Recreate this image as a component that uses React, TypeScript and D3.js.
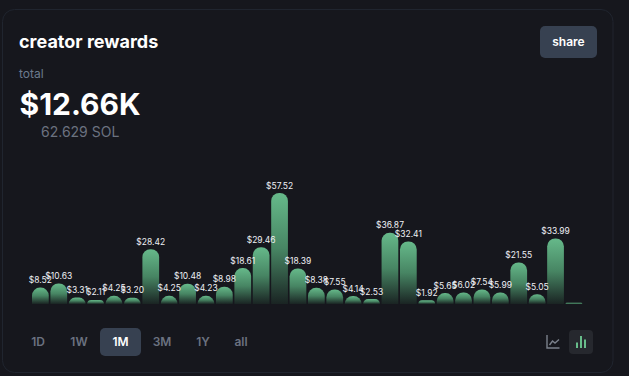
import React from "react";
import * as d3 from "d3";

const values = [8.52, 10.63, 3.31, 2.11, 4.25, 3.2, 28.42, 4.25, 10.48, 4.23, 8.98, 18.61, 29.46, 57.52, 18.39, 8.38, 7.55, 4.14, 2.53, 36.87, 32.41, 1.92, 5.65, 6.02, 7.54, 5.99, 21.55, 5.05, 33.99, 0.6];
const labels = ["$8.52", "$10.63", "$3.31", "$2.11", "$4.25", "$3.20", "$28.42", "$4.25", "$10.48", "$4.23", "$8.98", "$18.61", "$29.46", "$57.52", "$18.39", "$8.38", "$7.55", "$4.14", "$2.53", "$36.87", "$32.41", "$1.92", "$5.65", "$6.02", "$7.54", "$5.99", "$21.55", "$5.05", "$33.99", ""];
const ranges = ["1D", "1W", "1M", "3M", "1Y", "all"];
const rangeCenters = [38, 79, 120.5, 162, 203, 241];
const activeRange = "1M";
const iconBars = [5.5, 12, 8.5];

const FONT = "Inter, sans-serif";
const BG = "#16171d";

function barPath(x: number, y: number, w: number, h: number, r: number) {
  const c = Math.min(r, h, w / 2);
  const p = d3.path();
  p.moveTo(x, y + h);
  p.lineTo(x, y + c);
  p.arcTo(x, y, x + c, y, c);
  p.lineTo(x + w - c, y);
  p.arcTo(x + w, y, x + w, y + c, c);
  p.lineTo(x + w, y + h);
  p.closePath();
  return p.toString();
}

export default function App() {
  const x = d3.scaleBand<number>().domain(d3.range(values.length)).range([32, 582.3]).paddingInner(0.09).paddingOuter(0);
  const y = d3.scaleLinear().domain([0, 57.52]).range([304, 193]);
  return (
    <svg width={629} height={376} style={{ position: "absolute", left: 0, top: 0, background: BG }} fontFamily={FONT}>
      <defs>
        <linearGradient id="barGrad" x1="0" y1="0" x2="0" y2="1">
          <stop offset="0%" stopColor="#66b98a" />
          <stop offset="50%" stopColor="#478563" />
          <stop offset="100%" stopColor="#1a2423" />
        </linearGradient>
      </defs>
      <rect x={2.5} y={9.5} width={610.5} height={363} rx={12} fill={BG} stroke="#20252f" />
      <text x={19} y={48} fontSize={18} fontWeight={700} fill="#ffffff">creator rewards</text>
      <rect x={540} y={26} width={57} height={32} rx={5} fill="#374151" />
      <text x={568.5} y={46} fontSize={12} fontWeight={600} fill="#ffffff" textAnchor="middle">share</text>
      <text x={19} y={78} fontSize={12} fill="#6b7a8d">total</text>
      <text x={19.5} y={115} fontSize={30} fontWeight={700} fill="#ffffff">$12.66K</text>
      <text x={41} y={137} fontSize={14} fill="#6b7280">62.629 SOL</text>

      {values.map((v, i) => {
        const top = y(v);
        return <path key={i} d={barPath(x(i)!, top, x.bandwidth(), 304 - top, 8)} fill="url(#barGrad)" />;
      })}
      {values.map((v, i) =>
        labels[i] ? (
          <text key={i} x={x(i)! + x.bandwidth() / 2} y={y(v) - 4.5} fontSize={8.5} fill="#eef0f4" textAnchor="middle">{labels[i]}</text>
        ) : null
      )}

      <rect x={100} y={328} width={41} height={28} rx={5} fill="#374151" />
      {ranges.map((r, i) => (
        <text key={r} x={rangeCenters[i]} y={346} fontSize={12} fontWeight={600} textAnchor="middle" fill={r === activeRange ? "#ffffff" : "#6b7280"}>{r}</text>
      ))}

      <path d="M547 335 V348 H559.5 M549.5 345 L552.5 341 L555 343 L559 339.5" fill="none" stroke="#7b818c" strokeWidth={1.4} />
      <rect x={569} y={330} width={24} height={24} rx={4} fill="#26282e" />
      {iconBars.map((h, i) => (
        <rect key={i} x={576 + i * 4} y={348 - h} width={2} height={h} fill="#68bd8b" />
      ))}
    </svg>
  );
}
